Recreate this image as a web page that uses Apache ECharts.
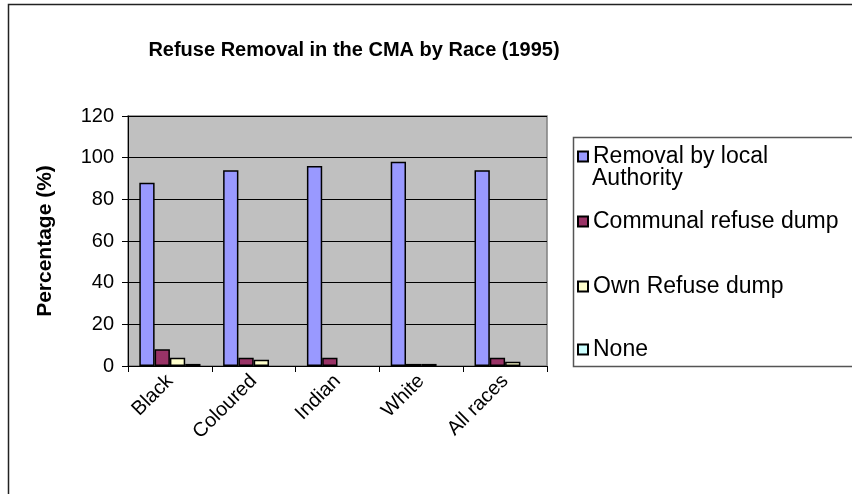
<!DOCTYPE html>
<html>
<head>
<meta charset="utf-8">
<script src="https://cdn.jsdelivr.net/npm/echarts@6/dist/echarts.min.js"></script>
<style>
  html, body { margin: 0; padding: 0; background: #fff; }
  #chart { width: 852px; height: 494px; }
</style>
</head>
<body>
<div id="chart"></div>
<script>
// Refuse removal by race group, CMA 1995 (percent of households)
const categories = ['Black', 'Coloured', 'Indian', 'White', 'All races'];
const seriesNames = ['Removal by local Authority', 'Communal refuse dump', 'Own Refuse dump', 'None'];
const removalByLocalAuthority = [88, 94, 96, 98, 94];
const communalRefuseDump = [8, 4, 4, 1, 4];
const ownRefuseDump = [4, 3, 0, 1, 2];
const noneValues = [1, 0, 0, 0, 0];
const yTicks = [0, 20, 40, 60, 80, 100, 120];

const colors = ['#9999FF', '#993366', '#FFFFCC', '#CCFFFF'];
const values = [removalByLocalAuthority, communalRefuseDump, ownRefuseDump, noneValues];
const FONT = 'Liberation Sans, Arial, sans-serif';

const chart = echarts.init(document.getElementById('chart'), null, { renderer: 'canvas' });

const series = seriesNames.map((name, i) => ({
  name,
  type: 'bar',
  data: values[i].map(v => (v === 0 ? '-' : v)),
  barGap: '0%',
  barCategoryGap: '27%',
  itemStyle: { color: colors[i], borderColor: '#000', borderWidth: 1.5 },
  emphasis: { disabled: true },
  animation: false
}));

// one legend block per entry so spacing follows the boxed key
const legendTops = [145, 210, 275, 338];
const legends = seriesNames.map((name, i) => ({
  data: [name],
  orient: 'vertical',
  left: 577,
  top: legendTops[i],
  padding: 0,
  icon: 'rect',
  itemWidth: 10,
  itemHeight: 10,
  itemStyle: { borderColor: '#000', borderWidth: 2 },
  selectedMode: false,
  formatter: n => (n === 'Removal by local Authority' ? 'Removal by local' : n),
  textStyle: { fontFamily: FONT, fontSize: 23, color: '#000' }
}));

chart.setOption({
  backgroundColor: '#fff',
  animation: false,
  title: {
    text: 'Refuse Removal in the CMA by Race (1995)',
    left: 349,
    textAlign: 'center',
    top: 35,
    textStyle: { fontFamily: FONT, fontSize: 20, fontWeight: 'bold', color: '#000' }
  },
  legend: legends,
  grid: {
    left: 128, right: 305, top: 116, bottom: 128,
    show: true, backgroundColor: '#C0C0C0', borderColor: '#808080', borderWidth: 1.5,
    containLabel: false
  },
  xAxis: {
    type: 'category',
    data: categories,
    axisLine: { lineStyle: { color: '#000', width: 1 } },
    axisTick: { show: true, length: 6, lineStyle: { color: '#000' } },
    axisLabel: {
      rotate: 45, margin: 12,
      fontFamily: FONT, fontSize: 20, color: '#000'
    }
  },
  yAxis: {
    type: 'value',
    min: yTicks[0],
    max: yTicks[yTicks.length - 1],
    interval: yTicks[1] - yTicks[0],
    name: 'Percentage (%)',
    nameLocation: 'middle',
    nameGap: 72,
    nameTextStyle: { fontFamily: FONT, fontSize: 21, fontWeight: 'bold', color: '#000' },
    axisLine: { show: true, lineStyle: { color: '#000', width: 1 } },
    axisTick: { show: true, length: 6, inside: false, lineStyle: { color: '#000' } },
    axisLabel: { fontFamily: FONT, fontSize: 20, color: '#000', margin: 14 },
    splitLine: { show: true, lineStyle: { color: '#000', width: 1 } }
  },
  graphic: [
    {
      type: 'rect', silent: true, z: -1,
      shape: { x: 8.5, y: 4.5, width: 900, height: 600 },
      style: { fill: 'none', stroke: '#222', lineWidth: 1.5 }
    },
    {
      type: 'rect', silent: true,
      shape: { x: 573.5, y: 137.5, width: 400, height: 229 },
      style: { fill: 'none', stroke: '#555', lineWidth: 1.5 }
    },
    {
      type: 'text', silent: true,
      left: 592, top: 167,
      style: { text: 'Authority', font: '23px ' + FONT, fill: '#000' }
    }
  ],
  series
});
</script>
</body>
</html>
